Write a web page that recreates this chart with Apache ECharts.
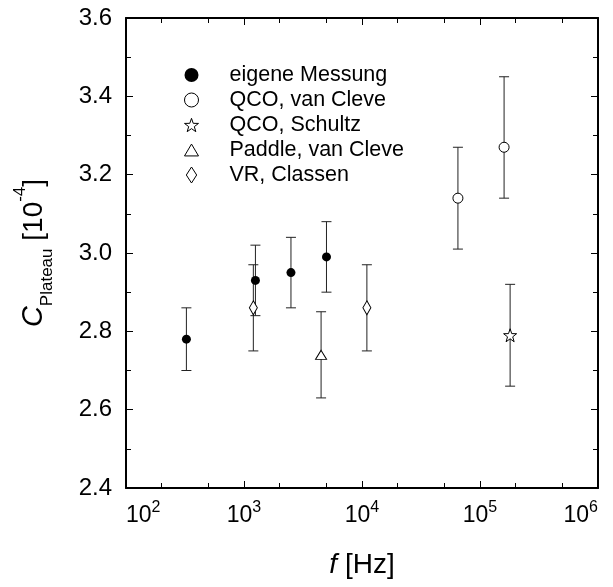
<!DOCTYPE html>
<html>
<head>
<meta charset="utf-8">
<script src="https://cdn.jsdelivr.net/npm/echarts@6/dist/echarts.min.js"></script>
<style>
  html, body { margin: 0; padding: 0; background: #fff; }
  #chart { width: 613px; height: 587px; }
</style>
</head>
<body>
<div id="chart"></div>
<script>
  // --- data (f in Hz, C in 1e-4) ---
  var seriesNames = ['eigene Messung', 'QCO, van Cleve', 'QCO, Schultz', 'Paddle, van Cleve', 'VR, Classen'];

  var ownF  = [325, 1250, 2500, 5000];
  var ownC  = [2.78, 2.93, 2.95, 2.99];
  var ownLo = [2.70, 2.84, 2.86, 2.90];
  var ownHi = [2.86, 3.02, 3.04, 3.08];

  var qcoVcF  = [65000, 160000];
  var qcoVcC  = [3.14, 3.27];
  var qcoVcLo = [3.01, 3.14];
  var qcoVcHi = [3.27, 3.45];

  var qcoSchF  = [180000];
  var qcoSchC  = [2.79];
  var qcoSchLo = [2.66];
  var qcoSchHi = [2.92];

  var paddleF  = [4500];
  var paddleC  = [2.74];
  var paddleLo = [2.63];
  var paddleHi = [2.85];

  var vrF  = [1200, 11000];
  var vrC  = [2.86, 2.86];
  var vrLo = [2.75, 2.75];
  var vrHi = [2.97, 2.97];

  var xMajor = [100, 1000, 10000, 100000, 1000000];
  var xMinor = [200, 500, 2000, 5000, 20000, 50000, 200000, 500000];
  var yTicks = [2.4, 2.6, 2.8, 3.0, 3.2, 3.4, 3.6];

  var FONT = 'Liberation Sans, Arial, Helvetica, sans-serif';

  // symbol shapes
  var starPath = 'path://M0,-10L2.351,-3.236L9.511,-3.09L3.804,1.236L5.878,8.09L0,4L-5.878,8.09L-3.804,1.236L-9.511,-3.09L-2.351,-3.236Z';
  var triPath = 'path://M0,-5.5L6.5,5.5L-6.5,5.5Z';
  var diaPath = 'path://M0,-8.5L5.5,0L0,8.5L-5.5,0Z';

  var groups = [
    {f: ownF, c: ownC, lo: ownLo, hi: ownHi, symbol: 'circle', size: 9, fill: '#000', legendIcon: 'circle'},
    {f: qcoVcF, c: qcoVcC, lo: qcoVcLo, hi: qcoVcHi, symbol: 'circle', size: 10, fill: '#fff', legendIcon: 'circle'},
    {f: qcoSchF, c: qcoSchC, lo: qcoSchLo, hi: qcoSchHi, symbol: starPath, size: 13, fill: '#fff', legendIcon: starPath},
    {f: paddleF, c: paddleC, lo: paddleLo, hi: paddleHi, symbol: 'triangle', size: [11, 9], fill: '#fff', legendIcon: triPath},
    {f: vrF, c: vrC, lo: vrLo, hi: vrHi, symbol: 'diamond', size: [8, 14], fill: '#fff', legendIcon: diaPath}
  ];

  function errBar(params, api) {
    var f = api.value(0);
    var top = api.coord([f, api.value(2)]);
    var bot = api.coord([f, api.value(1)]);
    var w = 5;
    var st = {stroke: '#222', lineWidth: 1};
    return {
      type: 'group',
      children: [
        {type: 'line', shape: {x1: top[0], y1: top[1], x2: bot[0], y2: bot[1]}, style: st},
        {type: 'line', shape: {x1: top[0] - w, y1: top[1], x2: top[0] + w, y2: top[1]}, style: st},
        {type: 'line', shape: {x1: bot[0] - w, y1: bot[1], x2: bot[0] + w, y2: bot[1]}, style: st}
      ]
    };
  }

  var series = [];
  var legendData = [];
  groups.forEach(function (g, k) {
    var errData = [], ptData = [];
    for (var i = 0; i < g.f.length; i++) {
      errData.push([g.f[i], g.lo[i], g.hi[i]]);
      ptData.push([g.f[i], g.c[i]]);
    }
    series.push({
      name: 'err' + k,
      type: 'custom',
      renderItem: errBar,
      encode: {x: 0, y: [1, 2]},
      data: errData,
      z: 2,
      silent: true
    });
    series.push({
      name: seriesNames[k],
      type: 'scatter',
      symbol: g.symbol,
      symbolSize: g.size,
      itemStyle: {color: g.fill, borderColor: '#000', borderWidth: g.fill === '#000' ? 0 : 1, opacity: 1},
      data: ptData,
      z: 3,
      silent: true
    });
    legendData.push({
      name: seriesNames[k],
      icon: g.legendIcon,
      itemStyle: {color: g.fill, borderColor: '#000', borderWidth: g.fill === '#000' ? 0 : 1}
    });
  });

  var lineSt = {color: '#000', width: 2};
  var tickSt = {color: '#000', width: 1};

  function xAxisCfg(pos, values, len, withLabels, withLine) {
    return {
      type: 'log',
      logBase: 10,
      min: 100,
      max: 1000000,
      position: pos,
      axisLine: {show: withLine, onZero: false, lineStyle: lineSt},
      axisTick: {show: true, inside: true, length: len, customValues: values, lineStyle: tickSt},
      axisLabel: {
        show: withLabels,
        customValues: values,
        margin: 12,
        alignMinLabel: 'left',
        alignMaxLabel: 'right',
        formatter: function (v) {
          return '{b|10}{e|' + Math.round(Math.log10(v)) + '}';
        },
        rich: {
          b: {fontSize: 23, fontFamily: FONT, color: '#000', lineHeight: 32},
          e: {fontSize: 16, fontFamily: FONT, color: '#000', lineHeight: 16, verticalAlign: 'top'}
        }
      },
      splitLine: {show: false},
      minorTick: {show: false},
      name: withLabels ? '{i|f} [Hz]' : '',
      nameLocation: 'middle',
      nameGap: 63,
      nameTextStyle: {
        fontSize: 28, fontFamily: FONT, color: '#000',
        rich: {i: {fontSize: 28, fontFamily: FONT, fontStyle: 'italic', color: '#000'}}
      }
    };
  }

  function yAxisCfg(pos, withLabels) {
    return {
      type: 'value',
      min: 2.4,
      max: 3.6,
      interval: 0.2,
      position: pos,
      axisLine: {show: true, onZero: false, lineStyle: lineSt},
      axisTick: {show: true, inside: true, length: 7, lineStyle: tickSt},
      minorTick: {show: true, splitNumber: 2, length: 5, lineStyle: tickSt},
      splitLine: {show: false},
      minorSplitLine: {show: false},
      axisLabel: {
        show: withLabels,
        customValues: yTicks,
        margin: 14,
        fontSize: 24,
        fontFamily: FONT,
        color: '#000',
        formatter: function (v) { return v.toFixed(1); }
      },
      name: withLabels ? '{c|C}{s|Plateau}{m| [10}{p|-4}{m|]}' : '',
      nameLocation: 'middle',
      nameGap: 70,
      nameTextStyle: {
        color: '#000',
        rich: {
          c: {fontSize: 29, fontFamily: FONT, fontStyle: 'italic', color: '#000', lineHeight: 44},
          s: {fontSize: 17, fontFamily: FONT, color: '#000', lineHeight: 14, verticalAlign: 'bottom'},
          m: {fontSize: 28, fontFamily: FONT, color: '#000', lineHeight: 44},
          p: {fontSize: 17, fontFamily: FONT, color: '#000', lineHeight: 14, verticalAlign: 'top'}
        }
      }
    };
  }

  var chart = echarts.init(document.getElementById('chart'), null, {renderer: 'canvas'});
  var option = {
    backgroundColor: '#fff',
    animation: false,
    grid: {left: 126, right: 15, top: 18, bottom: 99, containLabel: false, outerBoundsMode: 'none'},
    legend: {
      data: legendData,
      orient: 'vertical',
      left: 179,
      top: 59,
      itemWidth: 14,
      itemHeight: 16,
      itemGap: 3,
      selectedMode: false,
      textStyle: {fontSize: 21.5, fontFamily: FONT, color: '#000', lineHeight: 20, padding: [0, 0, 0, 26]}
    },
    xAxis: [
      xAxisCfg('bottom', xMajor, 7, true, true),
      xAxisCfg('bottom', xMinor, 5, false, false),
      xAxisCfg('top', xMajor, 7, false, true),
      xAxisCfg('top', xMinor, 5, false, false)
    ],
    yAxis: [
      yAxisCfg('left', true),
      yAxisCfg('right', false)
    ],
    series: series
  };
  chart.setOption(option);
  window.onresize = function () { chart.resize(); };
</script>
</body>
</html>
